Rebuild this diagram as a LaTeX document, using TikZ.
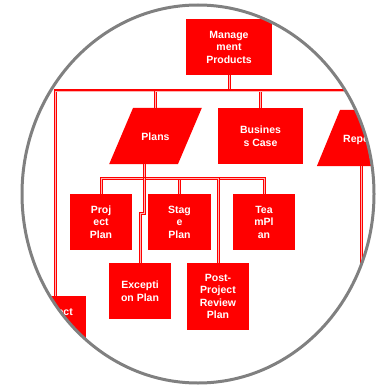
\documentclass[tikz,border=0pt]{standalone}
\usepackage{fontspec}
\setmainfont{Liberation Sans}
\usepackage{tikz}
\usetikzlibrary{shapes.geometric}
\definecolor{prodred}{RGB}{255,0,0}
\definecolor{lensgray}{RGB}{128,128,128}
\tikzstyle{product}=[rectangle, fill=prodred, text=white, inner sep=0pt,
minimum width=62pt, minimum height=56pt, align=center,
font=\fontsize{10.5}{12.5}\selectfont\bfseries]
\tikzstyle{planshape}=[fill=prodred, text=white, inner sep=0pt, align=center,
font=\fontsize{10.5}{12.5}\selectfont\bfseries, trapezium, trapezium left angle=67,
trapezium right angle=113, text width=45pt, text height=32pt, text depth=24pt]
\tikzstyle{reportshape}=[fill=prodred, text=white, inner sep=0pt, align=center,
font=\fontsize{10.5}{12.5}\selectfont\bfseries, trapezium, trapezium left angle=67.6,
trapezium right angle=67.6, text width=46pt, text height=32pt, text depth=24pt]
\tikzstyle{wire}=[draw=prodred, line width=1.1pt, double=red!30!white, double distance=0.8pt]

\begin{document}
\begin{tikzpicture}[x=1pt, y=-1pt]
    \useasboundingbox (0,0) rectangle (378,385);
    \begin{scope}
        \clip (198,194) ellipse [x radius=176pt, y radius=189pt];
        % products
        \node (mgmt)[product, minimum width=86pt] at (229,47) {Manage\\ment\\Products};
        \node (plans)[planshape] at (155.5,136) {Plans};
        \node (biz)[product, minimum width=85pt] at (260.5,136) {Busines\\s Case};
        \node (rep)[reportshape] at (363,138) {Reports};
        \node (pid)[product, text depth=24pt] at (55,324) {Project};
        % plans
        \node (pp)[product] at (101,222) {Proj\\ect\\Plan};
        \node (sp)[product, minimum width=63pt] at (179.5,222) {Stag\\e\\Plan};
        \node (tp)[product] at (264,222) {Tea\\mPl\\an};
        \node (ep)[product] at (140,291) {Excepti\\on Plan};
        \node (prp)[product, minimum height=67pt] at (218,296.5) {Post-\\Project\\Review\\Plan};
        % connectors
        \coordinate (bus) at (229,91);
        \coordinate (pbus) at (144,178);
        \coordinate (repend) at (361,340);
        \draw[wire] (mgmt) -- (bus);
        \draw[wire] (bus) -| (pid.north);
        \draw[wire] (bus) -| (plans.north);
        \draw[wire] (bus) -| (biz.north);
        \draw[wire] (bus) -| (rep.north);
        \draw[wire] (rep.south -| repend) -- (repend);
        \draw[wire] (plans.south -| pbus) -- (pbus);
        \draw[wire] (pbus) -| (pp.north);
        \draw[wire] (pbus) -| (sp.north);
        \draw[wire] (pbus) -| (tp.north);
        \draw[wire] (pbus) -| (prp.north);
        \draw[wire] (pbus) -- ++(0,35) -| (ep.north);
    \end{scope}
    \draw[lensgray, line width=3pt] (198,194) ellipse [x radius=176pt, y radius=189pt];
\end{tikzpicture}
\end{document}
